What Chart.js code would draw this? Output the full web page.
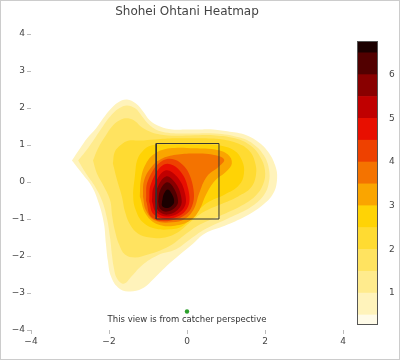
<!DOCTYPE html>
<html>
<head>
<meta charset="utf-8">
<script src="https://cdn.jsdelivr.net/npm/chart.js@4.4.0/dist/chart.umd.min.js"></script>
<style>
  html, body { margin: 0; padding: 0; background: #fff; }
  #wrap { position: relative; width: 400px; height: 360px; }
  canvas { position: absolute; left: 0; top: 0; }
  #frame { position: absolute; left: 0; top: 0; width: 400px; height: 360px;
           box-sizing: border-box; border: 1px solid #ccc; pointer-events: none; }
</style>
</head>
<body>
<div id="wrap">
  <canvas id="heat" width="400" height="360"></canvas>
  <canvas id="cbar" width="400" height="360"></canvas>
  <div id="frame"></div>
</div>
<script>
// axis ticks
const xTicks = [-4, -2, 0, 2, 4];
const yTicks = [-4, -3, -2, -1, 0, 1, 2, 3, 4];

// contour levels (density) and colorbar band edges
const contourLevels = [0.5, 1, 1.5, 2, 2.5, 3, 3.5, 4, 4.5, 5, 5.5, 6, 6.5];
const cbEdges = [0.27, 0.5, 1, 1.5, 2, 2.5, 3, 3.5, 4, 4.5, 5, 5.5, 6, 6.5, 6.77];
const cbTicks = [1, 2, 3, 4, 5, 6];

// contour outlines, outer to inner: [plate x, height]
const c050 = [[-2.95,0.58],[-2.74,0.91],[-2.56,1.18],[-2.33,1.45],[-2.15,1.72],[-1.97,1.96],[-1.77,2.15],[-1.54,2.23],[-1.31,2.12],[-1.13,1.91],[-0.95,1.66],[-0.69,1.50],[-0.38,1.42],[-0.05,1.42],[0.33,1.42],[0.67,1.42],[1.10,1.36],[1.49,1.28],[1.82,1.09],[2.08,0.82],[2.26,0.45],[2.31,0.09],[2.21,-0.31],[1.92,-0.64],[1.49,-0.93],[0.97,-1.18],[0.46,-1.39],[0.13,-1.69],[-0.18,-1.96],[-0.51,-2.26],[-0.82,-2.58],[-1.15,-2.88],[-1.51,-2.96],[-1.77,-2.85],[-1.95,-2.55],[-2.03,-2.12],[-2.08,-1.66],[-2.13,-1.12],[-2.26,-0.58],[-2.44,-0.12],[-2.69,0.23]];
const c100 = [[-2.79,0.58],[-2.54,0.91],[-2.23,1.39],[-1.97,1.77],[-1.74,1.99],[-1.54,2.07],[-1.33,1.99],[-1.15,1.77],[-0.95,1.53],[-0.64,1.36],[-0.05,1.31],[0.72,1.31],[1.36,1.20],[1.72,1.01],[1.97,0.72],[2.10,0.36],[2.10,-0.01],[1.97,-0.36],[1.62,-0.69],[1.10,-0.96],[0.46,-1.28],[0.08,-1.55],[-0.28,-1.82],[-0.75,-1.98],[-1.15,-2.25],[-1.42,-2.55],[-1.62,-2.75],[-1.80,-2.60],[-1.88,-2.30],[-1.92,-2.01],[-1.97,-1.53],[-2.05,-0.99],[-2.18,-0.50],[-2.36,-0.12],[-2.59,0.23]];
const c150 = [[-2.41,0.58],[-2.28,0.91],[-2.10,1.23],[-1.90,1.53],[-1.69,1.69],[-1.51,1.72],[-1.33,1.64],[-1.15,1.47],[-0.90,1.34],[-0.49,1.26],[0.08,1.26],[0.72,1.26],[1.23,1.18],[1.62,0.99],[1.87,0.69],[2.00,0.31],[1.95,-0.07],[1.74,-0.39],[1.36,-0.66],[0.85,-0.91],[0.33,-1.15],[-0.05,-1.42],[-0.38,-1.69],[-0.69,-1.85],[-1.00,-1.96],[-1.33,-2.04],[-1.59,-1.96],[-1.74,-1.69],[-1.85,-1.31],[-1.92,-0.91],[-1.97,-0.50],[-2.13,-0.12],[-2.31,0.23]];
const c200 = [[-1.90,0.50],[-1.85,0.82],[-1.69,1.01],[-1.49,1.12],[-1.21,1.12],[-0.82,1.15],[-0.31,1.18],[0.33,1.18],[0.90,1.15],[1.31,1.04],[1.59,0.85],[1.74,0.55],[1.77,0.20],[1.64,-0.15],[1.31,-0.39],[0.85,-0.61],[0.41,-0.82],[0.08,-1.09],[-0.23,-1.36],[-0.56,-1.50],[-0.95,-1.50],[-1.26,-1.39],[-1.46,-1.15],[-1.59,-0.80],[-1.67,-0.39],[-1.79,0.04]];
const c250 = [[-1.33,0.23],[-1.28,0.58],[-1.15,0.82],[-0.90,0.99],[-0.44,1.01],[0.21,1.01],[0.79,0.99],[1.21,0.85],[1.41,0.58],[1.46,0.23],[1.33,-0.09],[0.97,-0.34],[0.54,-0.55],[0.21,-0.85],[-0.10,-1.18],[-0.44,-1.28],[-0.82,-1.26],[-1.13,-1.09],[-1.31,-0.77],[-1.38,-0.39]];
const c300 = [[-1.21,-0.39],[-1.18,0.09],[-1.05,0.50],[-0.82,0.77],[-0.44,0.91],[0.21,0.91],[0.72,0.88],[1.05,0.74],[1.15,0.50],[1.00,0.28],[0.72,0.04],[0.49,-0.34],[0.31,-0.77],[0.08,-1.04],[-0.31,-1.18],[-0.74,-1.15],[-1.05,-0.88]];
const c350 = [[-1.13,-0.39],[-1.10,0.04],[-0.90,0.42],[-0.62,0.64],[-0.23,0.74],[0.21,0.77],[0.64,0.74],[0.95,0.61],[0.82,0.42],[0.51,0.15],[0.31,-0.31],[0.18,-0.72],[-0.05,-0.99],[-0.38,-1.09],[-0.82,-1.04],[-1.05,-0.77]];
const c400 = [[-1.05,-0.50],[-1.00,0.04],[-0.62,0.58],[-0.18,0.53],[0.13,-0.01],[0.10,-0.72],[-0.41,-1.04],[-0.90,-0.96]];
const c450 = [[-0.97,-0.53],[-0.92,-0.04],[-0.59,0.47],[-0.23,0.36],[0.03,-0.18],[0.00,-0.72],[-0.44,-0.99],[-0.85,-0.88]];
const c500 = [[-0.90,-0.53],[-0.85,-0.12],[-0.56,0.31],[-0.26,0.15],[-0.05,-0.31],[-0.08,-0.70],[-0.46,-0.93],[-0.79,-0.82]];
const c550 = [[-0.82,-0.53],[-0.77,-0.18],[-0.54,0.15],[-0.31,-0.01],[-0.15,-0.39],[-0.18,-0.68],[-0.49,-0.88],[-0.74,-0.77]];
const c600 = [[-0.74,-0.53],[-0.69,-0.23],[-0.51,-0.01],[-0.33,-0.18],[-0.23,-0.50],[-0.28,-0.66],[-0.51,-0.80],[-0.69,-0.72]];
const c650 = [[-0.64,-0.53],[-0.59,-0.31],[-0.49,-0.20],[-0.38,-0.34],[-0.33,-0.55],[-0.41,-0.66],[-0.54,-0.70],[-0.64,-0.64]];
const contours = [c050, c100, c150, c200, c250, c300, c350, c400, c450, c500, c550, c600, c650];

// strike zone and the marker under it
const zoneX = [-0.79, 0.82];
const zoneY = [-1.0, 1.04];
const markerPoint = [0, -3.5];
const note = 'This view is from catcher perspective';
const notePos = [0, -3.72];

// reversed "hot" colour scale
const hotStops = [[0, [255, 255, 255]], [0.4, [255, 210, 0]], [0.7, [230, 0, 0]], [1, [0, 0, 0]]];
function hotColor(t) {
    for (let i = 1; i < hotStops.length; i++) {
        if (t <= hotStops[i][0]) {
            const [t0, a] = hotStops[i - 1];
            const [t1, b] = hotStops[i];
            const f = (t - t0) / (t1 - t0);
            const c = a.map((v, k) => Math.round(v + (b[k] - v) * f));
            return 'rgb(' + c.join(',') + ')';
        }
    }
    return 'rgb(0,0,0)';
}
const nBands = cbEdges.length - 1;
const bandColors = cbEdges.slice(0, -1).map((e, i) => hotColor((i + 0.5) / nBands));

const FONT = 'DejaVu Sans, Verdana, sans-serif';
const minus = v => String(v).replace('-', '\u2212');

const datasets = contours.map((pts, k) => ({
    data: pts.concat([pts[0]]),
    showLine: true,
    fill: 'shape',
    backgroundColor: bandColors[k + 1],
    borderColor: 'rgba(0,0,0,0)',
    borderWidth: 0,
    pointRadius: 0,
    tension: 0.4,
    order: 100 - k,
}));

datasets.push({
    data: [[zoneX[0], zoneY[0]], [zoneX[1], zoneY[0]], [zoneX[1], zoneY[1]], [zoneX[0], zoneY[1]], [zoneX[0], zoneY[0]]],
    showLine: true,
    fill: false,
    borderColor: '#333',
    borderWidth: 1,
    pointRadius: 0,
    tension: 0,
    order: 1,
});

datasets.push({
    data: [markerPoint],
    showLine: false,
    pointRadius: 2.2,
    pointBackgroundColor: '#2ca02c',
    pointBorderWidth: 0,
    order: 0,
});

const notePlugin = {
    id: 'note',
    afterDatasetsDraw(chart) {
        const ctx = chart.ctx;
        ctx.save();
        ctx.font = '8.5px ' + FONT;
        ctx.fillStyle = '#333';
        ctx.textAlign = 'center';
        ctx.textBaseline = 'middle';
        ctx.fillText(note, chart.scales.x.getPixelForValue(notePos[0]), chart.scales.y.getPixelForValue(notePos[1]));
        ctx.restore();
    }
};

const axisOpts = (ticks) => ({
    type: 'linear',
    min: ticks[0],
    max: ticks[ticks.length - 1],
    afterBuildTicks: s => { s.ticks = ticks.map(v => ({ value: v })); },
    grid: { display: true, drawOnChartArea: false, drawTicks: true, tickLength: 4, color: '#bbb' },
    border: { display: false },
    ticks: { font: { family: FONT, size: 9 }, color: '#444', padding: 2, callback: minus, maxRotation: 0 },
});

const xAxis = axisOpts(xTicks);
xAxis.afterFit = s => { s.height = 22; };
const yAxis = axisOpts(yTicks);
yAxis.afterFit = s => { s.width = 31; };

new Chart(document.getElementById('heat').getContext('2d'), {
    type: 'scatter',
    data: { datasets },
    options: {
        responsive: false,
        animation: false,
        layout: { padding: { left: 0, right: 57, top: 0, bottom: 8 } },
        scales: { x: xAxis, y: yAxis },
        plugins: {
            legend: { display: false },
            tooltip: { enabled: false },
            title: {
                display: true,
                fullSize: false,
                text: 'Shohei Ohtani Heatmap',
                color: '#444',
                font: { family: FONT, size: 12, weight: 'normal' },
                padding: { top: 5, bottom: 14.6 },
            },
        },
    },
    plugins: [notePlugin],
});

// colour bar
const outlinePlugin = {
    id: 'outline',
    afterDraw(chart) {
        const a = chart.chartArea;
        const ctx = chart.ctx;
        ctx.save();
        ctx.strokeStyle = '#555';
        ctx.lineWidth = 1;
        ctx.strokeRect(Math.round(a.left) + 0.5, Math.round(a.top) + 0.5, Math.round(a.width) - 1, Math.round(a.height) - 1);
        ctx.restore();
    }
};

new Chart(document.getElementById('cbar').getContext('2d'), {
    type: 'bar',
    data: {
        labels: ['z'],
        datasets: bandColors.map((c, i) => ({
            data: [[cbEdges[i], cbEdges[i + 1]]],
            backgroundColor: c,
            borderWidth: 0,
            barPercentage: 1,
            categoryPercentage: 1,
            grouped: false,
        })),
    },
    options: {
        responsive: false,
        animation: false,
        layout: { padding: { left: 357, right: 0, top: 41, bottom: 35 } },
        scales: {
            x: { display: false },
            y: {
                position: 'right',
                min: cbEdges[0],
                max: cbEdges[cbEdges.length - 1],
                afterBuildTicks: s => { s.ticks = cbTicks.map(v => ({ value: v })); },
                afterFit: s => { s.width = 22; },
                grid: { display: false },
                border: { display: false },
                ticks: { font: { family: FONT, size: 9 }, color: '#444', padding: 3 },
            },
        },
        plugins: { legend: { display: false }, tooltip: { enabled: false } },
    },
    plugins: [outlinePlugin],
});
</script>
</body>
</html>
